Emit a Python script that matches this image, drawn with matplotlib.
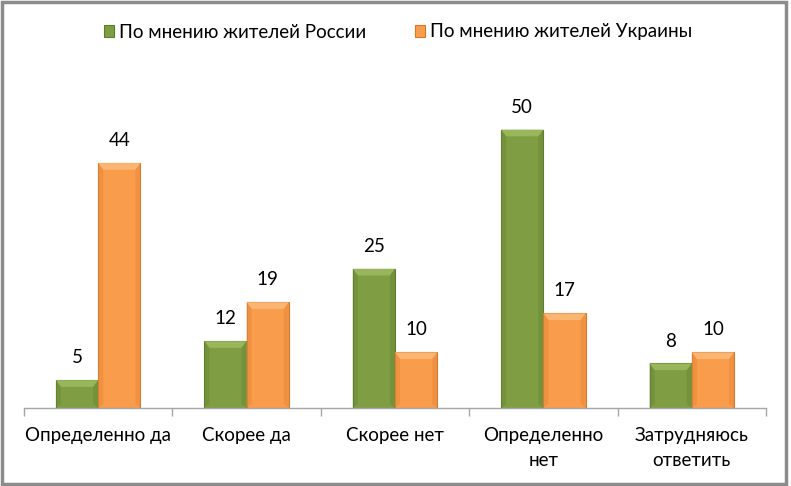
import numpy as np
import matplotlib.pyplot as plt
from matplotlib.patches import Rectangle, Polygon

categories = ["Определенно да", "Скорее да", "Скорее нет", "Определенно\nнет", "Затрудняюсь\nответить"]
russia = [5, 12, 25, 50, 8]
ukraine = [44, 19, 10, 17, 10]
series_names = ["По мнению жителей России", "По мнению жителей Украины"]

plt.rcParams['font.family'] = ['Lato', 'DejaVu Sans']

W, H = 791, 486
fig = plt.figure(figsize=(W / 100, H / 100), dpi=100)
ax = fig.add_axes([24 / W, 78 / H, 742 / W, 334 / H])

x = np.arange(len(categories))
bw = 0.285
styles = [
    dict(face="#7F9D43", edge="#5E7A2C", light="#98B75A", dark="#6B8735"),
    dict(face="#F99D4C", edge="#D07A2C", light="#FBB572", dark="#E8873A"),
]


def bevel(ax, bars, st):
    # lighter top facet and darker side facets, in data units derived from each bar
    for b in bars:
        x0, y0, w, h = b.get_x(), b.get_y(), b.get_width(), b.get_height()
        dx = w * 0.12
        dy = min(1.2, h * 0.3)
        ax.add_patch(Polygon([(x0, y0 + h), (x0 + w, y0 + h), (x0 + w - dx, y0 + h - dy),
                              (x0 + dx, y0 + h - dy)], closed=True, fc=st["light"], ec="none", zorder=3))
        ax.add_patch(Polygon([(x0, y0), (x0 + dx, y0 + dy * 0.6), (x0 + dx, y0 + h - dy), (x0, y0 + h)],
                             closed=True, fc=st["dark"], ec="none", alpha=0.5, zorder=3))
        ax.add_patch(Polygon([(x0 + w, y0), (x0 + w - dx, y0 + dy * 0.6), (x0 + w - dx, y0 + h - dy),
                              (x0 + w, y0 + h)], closed=True, fc=st["dark"], ec="none", alpha=0.5, zorder=3))


handles = []
for i, (vals, st, name) in enumerate(zip([russia, ukraine], styles, series_names)):
    pos = x - bw / 2 if i == 0 else x + bw / 2
    bars = ax.bar(pos, vals, bw, color=st["face"], edgecolor=st["edge"], linewidth=0.8,
                  zorder=2, label=name)
    bevel(ax, bars, st)
    for b, v in zip(bars, vals):
        ax.annotate(str(v), (b.get_x() + b.get_width() / 2, v), xytext=(0, 10),
                    textcoords="offset points", ha="center", va="bottom", fontsize=13.5)
    handles.append(bars)

ax.set_xlim(-0.5, len(categories) - 0.5)
ax.set_ylim(0, 60)
ax.set_yticks([])
for s in ["top", "right", "left"]:
    ax.spines[s].set_visible(False)
ax.spines["bottom"].set_color("#A6A6A6")
ax.spines["bottom"].set_linewidth(1)

ax.set_xticks(x)
ax.set_xticklabels(categories, fontsize=13.5, linespacing=1.55)
ax.tick_params(axis="x", length=0, pad=14)
ax.set_xticks(np.arange(len(categories) + 1) - 0.5, minor=True)
ax.tick_params(axis="x", which="minor", length=6, color="#A6A6A6", width=1)

fig.legend(handles=handles, labels=series_names, loc="center", bbox_to_anchor=(398 / W, 1 - 32 / H),
           ncol=2, frameon=False, fontsize=13.5, handlelength=0.55, handleheight=0.55,
           handletextpad=0.25, columnspacing=2.6)

fig.patches.append(Rectangle((0.002, 0.004), 0.992, 0.992, transform=fig.transFigure,
                             fill=False, ec="#8C8C8C", lw=2.5))

fig.savefig("out.png", dpi=100)
